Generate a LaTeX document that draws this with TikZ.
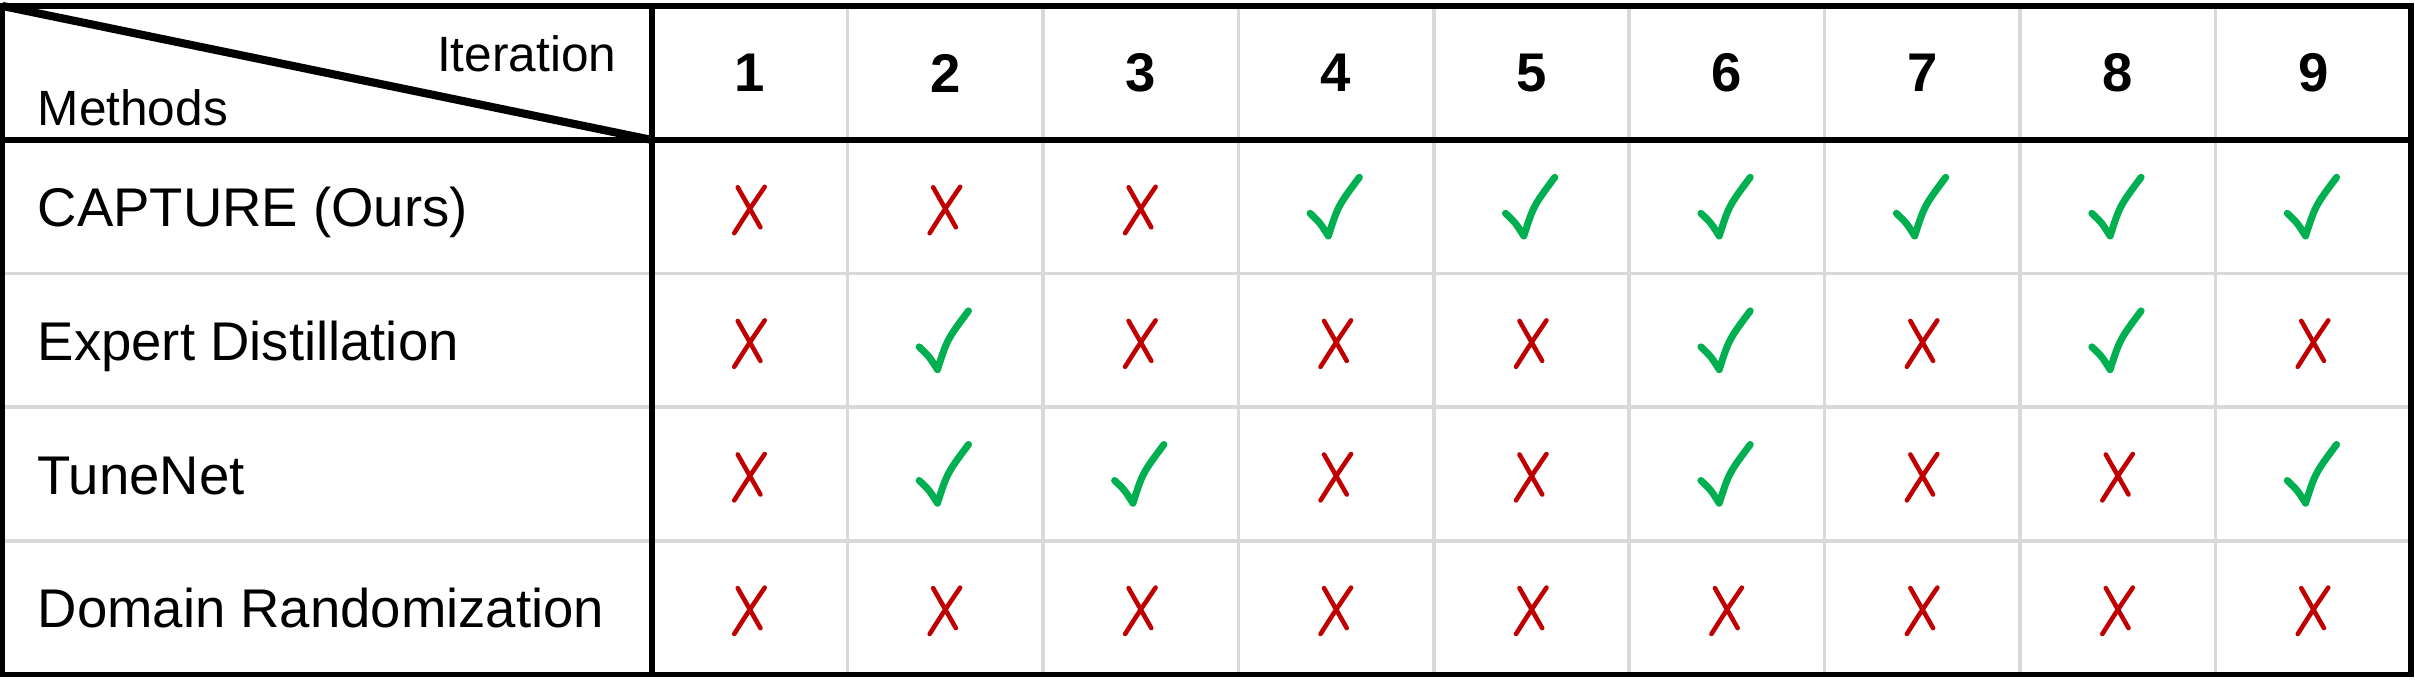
\documentclass[tikz,border=0pt]{standalone}
\usepackage{fontspec}
\setmainfont{Liberation Sans}
\usepackage{xcolor}
\usetikzlibrary{positioning}
\definecolor{gridgray}{HTML}{D9D9D9}
\definecolor{crossred}{HTML}{C00000}
\definecolor{tickgreen}{HTML}{00B050}

\begin{document}
\begin{tikzpicture}[
    x=0.01cm, y=-0.01cm,
    rowname/.style={anchor=base west, inner sep=0pt, font=\fontsize{15.5}{18}\selectfont},
    head/.style={inner sep=0pt, font=\fontsize{14.1}{17}\selectfont},
    num/.style={inner sep=0pt, font=\fontsize{15.5}{18}\selectfont\bfseries},
    gridline/.style={gridgray, line width=1pt},
    frame/.style={black, line width=1.5pt},
    yes/.pic={\draw[tickgreen, line width=2pt, line cap=round, line join=round]
        (-26,6.5) .. controls (-16,16) .. (-7.7,29.2) .. controls (2,-1) .. (23.3,-29.5);},
    no/.pic={\draw[crossred, line width=1.3pt, line cap=round]
        (-12,-19.5) -- (10.7,20.5) (15,-20) .. controls (-2,5) .. (-15.5,26.4);}
]
\useasboundingbox (0,0) rectangle (2415,682);
\coordinate (tl) at (2.5,6);
\coordinate (br) at (2411,674.4);
\coordinate (hc) at (652,140);

\foreach \i in {1,...,8}
    \draw[gridline] ({652+\i*195.44},6) -- ({652+\i*195.44},674.4);
\foreach \j in {1,2,3}
    \draw[gridline] (2.5,{140+\j*133.6}) -- (2411,{140+\j*133.6});

\draw[frame] (tl) rectangle (br);
\draw[frame] (tl -| hc) -- (br -| hc);
\draw[frame] (tl |- hc) -- (br |- hc);
\draw[black, line width=2.3pt] (tl) -- (hc);

\node[head, anchor=base east] (iter) at (617,72) {Iteration};
\node[head, anchor=base west] (meth) at (37,126) {Methods};
\foreach \i in {1,...,9}
    \node[num] (it\i) at ({652+(\i-0.5)*195.44},73) {\i};

\foreach \name/\txt [count=\r] in {capture/CAPTURE (Ours), expert/Expert Distillation, tunenet/TuneNet, domrand/Domain Randomization}
    \node[rowname] (\name) at (37,{140+(\r-0.5)*133.6+20}) {\txt};

\foreach \marks [count=\r] in {{0,0,0,1,1,1,1,1,1},{0,1,0,0,0,1,0,1,0},{0,1,1,0,0,1,0,0,1},{0,0,0,0,0,0,0,0,0}}
    \foreach \m [count=\c] in \marks {
        \ifnum\m=1
            \pic at ({652+(\c-0.5)*195.44},{140+(\r-0.5)*133.6}) {yes};
        \else
            \pic at ({652+(\c-0.5)*195.44},{140+(\r-0.5)*133.6}) {no};
        \fi
    }
\end{tikzpicture}
\end{document}
